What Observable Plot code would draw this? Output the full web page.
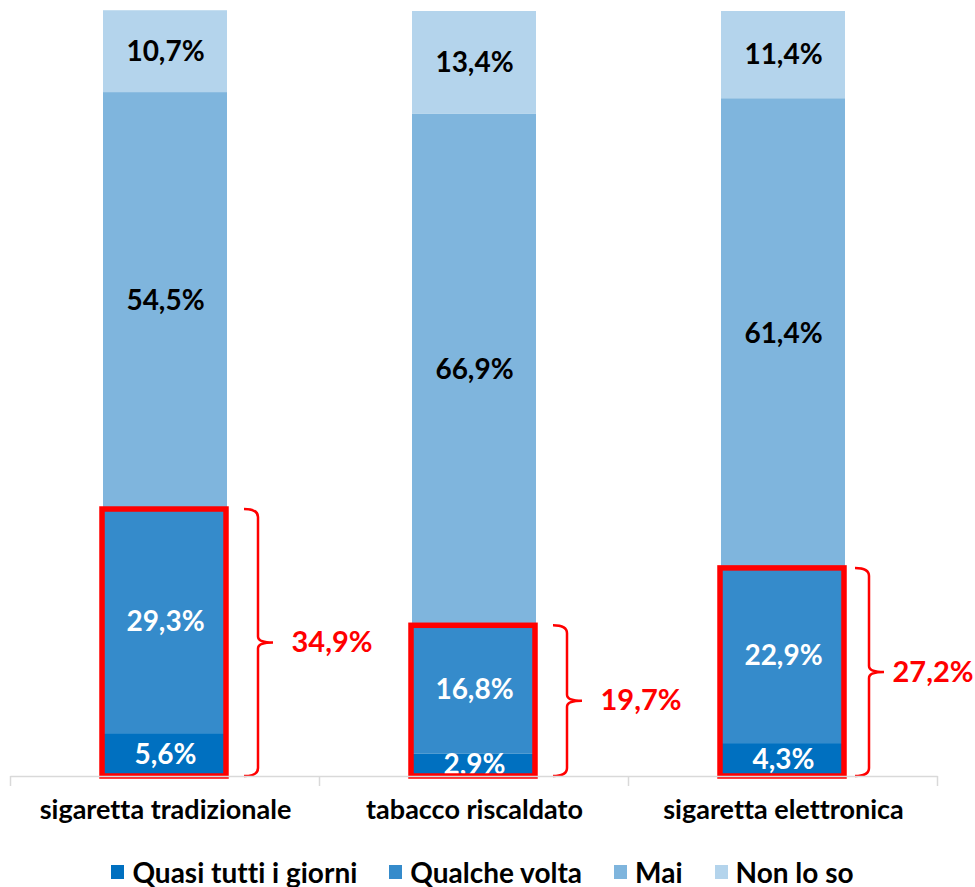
<!DOCTYPE html>
<html><head><meta charset="utf-8">
<script src="https://cdn.jsdelivr.net/npm/d3@7"></script>
<script src="https://cdn.jsdelivr.net/npm/@observablehq/plot@0.6"></script>
<style>
body{margin:0;background:#fff;font-family:Lato,"Open Sans",sans-serif;font-variant-ligatures:none;}
svg text{font-variant-ligatures:none;}
#legend{display:flex;justify-content:center;align-items:center;height:47px;padding-top:8px;padding-right:10px;font-weight:bold;font-size:28px;color:#000;}
#legend .item{display:flex;align-items:center;margin:0 16px;}
#legend .sw{width:13px;height:14px;margin-right:8px;}
</style></head>
<body><div id="chart"></div><div id="legend"></div>
<script>
const categories = ["sigaretta tradizionale","tabacco riscaldato","sigaretta elettronica"];
const series = ["Quasi tutti i giorni","Qualche volta","Mai","Non lo so"];
const quasiTutti = [5.6, 2.9, 4.3];
const qualcheVolta = [29.3, 16.8, 22.9];
const mai = [54.5, 66.9, 61.4];
const nonLoSo = [10.7, 13.4, 11.4];
const colors = ["#0070C0","#358BCB","#7FB5DD","#B4D4EC"];
const labelColors = ["white","white","black","black"];

const values = [quasiTutti, qualcheVolta, mai, nonLoSo];
const fmt = v => v.toFixed(1).replace(".", ",") + "%";
const data = [];
series.forEach((s, si) => categories.forEach((c, ci) => data.push({cat: c, series: s, value: values[si][ci], lab: labelColors[si]})));
const totals = categories.map((c, ci) => ({cat: c, total: +(quasiTutti[ci] + qualcheVolta[ci]).toFixed(1)}));
const lastCat = categories[categories.length - 1];

const RED = "#FF0000";

function axisMark(index, scales) {
  const x = scales.x, y = scales.y;
  const bw = x.bandwidth(), step = x.step();
  const g = d3.create("svg:g");
  const bounds = categories.map(c => x(c) + bw / 2 - step / 2);
  bounds.push(x(lastCat) + bw / 2 + step / 2);
  const y0 = y(0);
  g.append("line").attr("x1", bounds[0]).attr("x2", bounds[bounds.length - 1])
    .attr("y1", y0 + 0.5).attr("y2", y0 + 0.5).attr("stroke", "#D9D9D9").attr("stroke-width", 1.5);
  for (const b of bounds) g.append("line").attr("x1", b).attr("x2", b).attr("y1", y0).attr("y2", y0 + 10)
    .attr("stroke", "#D9D9D9").attr("stroke-width", 1.5);
  return g.node();
}

function braceMark(index, scales) {
  const x = scales.x, y = scales.y;
  const bw = x.bandwidth();
  const g = d3.create("svg:g");
  for (const t of totals) {
    // the last brace is pulled left so its label fits within the page
    const R = x(t.cat) + bw + (t.cat === lastCat ? -7 : 0);
    const yT = y(t.total), yB = y(0), yM = (yT + yB) / 2;
    const a = R + 17, v = R + 31, tip = R + 46;
    const d = `M${a},${yT} Q${v},${yT} ${v},${yT + 8} L${v},${yM - 6} Q${v},${yM} ${tip},${yM} Q${v},${yM} ${v},${yM + 6} L${v},${yB - 8} Q${v},${yB} ${a},${yB}`;
    g.append("path").attr("d", d).attr("fill", "none").attr("stroke", RED).attr("stroke-width", 2.5);
  }
  return g.node();
}

const redText = {x: "cat", y: d => d.total / 2, text: d => fmt(d.total), fill: RED, fontSize: 29, fontWeight: "bold", textAnchor: "start"};

const chart = Plot.plot({
  width: 975,
  height: 840,
  marginLeft: 10,
  marginRight: 37,
  marginTop: 11,
  marginBottom: 64,
  style: {fontFamily: "Lato, 'Open Sans', sans-serif", background: "#fff"},
  x: {domain: categories, paddingInner: 0.6, paddingOuter: 0.3, axis: null},
  y: {domain: [0, 100], axis: null},
  color: {domain: series, range: colors},
  marks: [
    Plot.barY(data, {x: "cat", y: "value", fill: "series"}),
    Plot.text(data, Plot.stackY({x: "cat", y: "value", z: "series", text: d => fmt(d.value), fill: "lab", fontSize: 28, fontWeight: "bold", clip: true})),
    Plot.barY(totals, {x: "cat", y1: 0, y2: "total", fill: "none", stroke: RED, strokeWidth: 5.5, dx: -1}),
    braceMark,
    Plot.text(totals.filter(t => t.cat !== lastCat), {...redText, dx: 126}),
    Plot.text(totals.filter(t => t.cat === lastCat), {...redText, dx: 109}),
    axisMark,
    Plot.text(categories, {x: d => d, frameAnchor: "bottom", dy: 42, fontSize: 27, fontWeight: "bold", fill: "black"})
  ]
});
document.getElementById("chart").appendChild(chart);

const legend = d3.select("#legend");
series.forEach((s, i) => {
  const it = legend.append("div").attr("class", "item");
  it.append("div").attr("class", "sw").style("background", colors[i]);
  it.append("span").text(s);
});
</script>
</body></html>
